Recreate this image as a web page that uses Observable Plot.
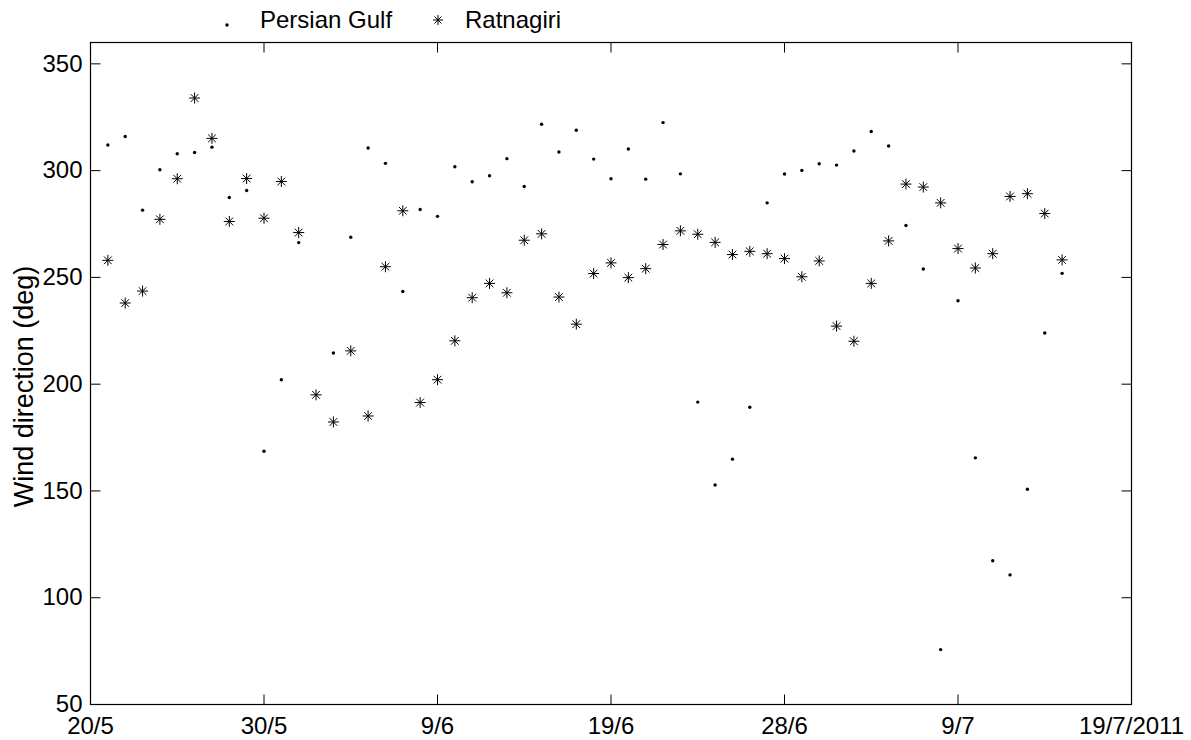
<!DOCTYPE html>
<html>
<head>
<meta charset="utf-8">
<script src="https://cdn.jsdelivr.net/npm/d3@7"></script>
<script src="https://cdn.jsdelivr.net/npm/@observablehq/plot@0.6"></script>
<style>
  html, body { margin: 0; padding: 0; background: #fff; overflow: hidden; }
  #legend { position: relative; width: 1191px; height: 38px; font-family: "Liberation Sans", Arial, sans-serif; font-size: 24px; color: #000; }
  #legend span { position: absolute; top: 8px; line-height: 24px; white-space: nowrap; }
  #legend svg { position: absolute; overflow: visible; }
</style>
</head>
<body>
<div id="legend">
  <svg style="left:217px;top:15px" width="20" height="20"><circle cx="10" cy="10" r="1.7" fill="#000"/></svg>
  <span style="left:260px">Persian Gulf</span>
  <svg id="legstar" style="left:428px;top:10px" width="20" height="20"></svg>
  <span style="left:465px">Ratnagiri</span>
</div>
<div id="chart"></div>
<script>
// ---- data (one value per day, 21/5/2011 .. 15/7/2011) ----
const startDate = "2011-05-21";
const persianGulf = [312, 316, 281.5, 300.4, 307.9, 308.5, 311, 287.4, 290.7, 168.6,
  202.1, 266.3, null, 214.6, 268.8, 310.6, 303.4, 243.4, 281.8, 278.6,
  301.8, 294.8, 297.6, 305.6, 292.6, 321.7, 308.7, 318.9, 305.4, 296.2,
  310.1, 296, 322.5, 298.5, 191.6, 152.8, 164.9, 189.2, 284.9, 298.4,
  300.1, 303.2, 302.6, 309.2, 318.3, 311.5, 274.3, 253.9, 75.7, 239.1,
  165.5, 117.3, 110.7, 150.8, 224, 251.9];
const ratnagiri = [258, 238, 243.6, 277.2, 296.2, 334, 315.1, 276.2, 296.3, 277.7,
  294.9, 271, 195, 182.3, 215.6, 185.1, 255, 281.2, 191.4, 202.1,
  220.3, 240.5, 247.2, 242.8, 267.4, 270.4, 240.8, 228.1, 251.8, 256.8,
  249.9, 254.1, 265.4, 271.8, 270.2, 266.4, 260.7, 262.2, 261.1, 258.8,
  250.3, 257.7, 227.2, 220.1, 247.2, 267.1, 293.7, 292.3, 284.9, 263.5,
  254.4, 261.1, 287.9, 289.2, 279.9, 258.2];
const seriesNames = ["Persian Gulf", "Ratnagiri"];
const xTickDates = ["2011-05-20", "2011-05-30", "2011-06-09", "2011-06-19", "2011-06-29", "2011-07-09", "2011-07-19"];
const xTickLabels = ["20/5", "30/5", "9/6", "19/6", "28/6", "9/7", "19/7/2011"];
const yTicks = [50, 100, 150, 200, 250, 300, 350];
const yLabel = "Wind direction (deg)";

// ---- build table ----
const start = new Date(startDate + "T00:00:00Z");
const rows = [];
persianGulf.forEach((v, i) => { if (v != null) rows.push({date: d3.utcDay.offset(start, i), value: v, series: seriesNames[0]}); });
ratnagiri.forEach((v, i) => { if (v != null) rows.push({date: d3.utcDay.offset(start, i), value: v, series: seriesNames[1]}); });
const tickDates = xTickDates.map(s => new Date(s + "T00:00:00Z"));
const labelOf = new Map(tickDates.map((d, i) => [+d, xTickLabels[i]]));

// ---- custom symbols ----
const asterisk = {
  draw(ctx, size) {
    const r = Math.sqrt(size / Math.PI), d = r * 0.7;
    ctx.moveTo(-r, 0); ctx.lineTo(r, 0);
    ctx.moveTo(0, -r); ctx.lineTo(0, r);
    ctx.moveTo(-d, -d); ctx.lineTo(d, d);
    ctx.moveTo(-d, d); ctx.lineTo(d, -d);
  }
};
const tickSym = (dx, dy) => ({
  draw(ctx, size) {
    const L = Math.sqrt(size / Math.PI);
    ctx.moveTo(0, 0); ctx.lineTo(dx * L, dy * L);
  }
});
const tickUp = tickSym(0, -1), tickDown = tickSym(0, 1), tickRight = tickSym(1, 0), tickLeft = tickSym(-1, 0);

// legend star
{
  const p = d3.path(); asterisk.draw(p, Math.PI * 5 * 5);
  d3.select("#legstar").append("path").attr("transform", "translate(10,10)")
    .attr("d", p.toString()).attr("stroke", "#000").attr("fill", "none").attr("stroke-width", 1);
}

const xDomain = [tickDates[0], tickDates[tickDates.length - 1]];
const yDomain = [50, 360];

const chart = Plot.plot({
  width: 1191,
  height: 702,
  marginTop: 4,
  marginBottom: 36,
  marginLeft: 90,
  marginRight: 60,
  style: {fontFamily: "'Liberation Sans', Arial, sans-serif", fontSize: "24px", color: "#000", background: "#fff"},
  x: {type: "utc", domain: xDomain},
  y: {domain: yDomain},
  marks: [
    Plot.frame({stroke: "#000", strokeWidth: 1.2}),
    // inward ticks
    Plot.dot(tickDates, {x: d => d, y: () => yDomain[0], symbol: tickUp, r: 10, stroke: "#000", fill: "none", strokeWidth: 1}),
    Plot.dot(tickDates, {x: d => d, y: () => yDomain[1], symbol: tickDown, r: 10, stroke: "#000", fill: "none", strokeWidth: 1}),
    Plot.dot(yTicks, {x: () => xDomain[0], y: d => d, symbol: tickRight, r: 10, stroke: "#000", fill: "none", strokeWidth: 1}),
    Plot.dot(yTicks, {x: () => xDomain[1], y: d => d, symbol: tickLeft, r: 10, stroke: "#000", fill: "none", strokeWidth: 1}),
    Plot.axisX({ticks: tickDates, tickSize: 0, tickPadding: 12, tickFormat: d => labelOf.get(+d), fontSize: 24, label: null}),
    Plot.axisY({ticks: yTicks, tickSize: 0, tickPadding: 8, fontSize: 24, label: null}),
    Plot.text([yLabel], {frameAnchor: "left", text: d => d, rotate: -90, textAnchor: "middle", lineAnchor: "middle", dx: -66, dy: 13, fontSize: 27, fill: "#000"}),
    Plot.dot(rows.filter(d => d.series === seriesNames[0]), {x: "date", y: "value", r: 1.7, fill: "#000", stroke: "none"}),
    Plot.dot(rows.filter(d => d.series === seriesNames[1]), {x: "date", y: "value", symbol: asterisk, r: 5.5, stroke: "#000", fill: "none", strokeWidth: 1})
  ]
});
document.getElementById("chart").appendChild(chart);
</script>
</body>
</html>
